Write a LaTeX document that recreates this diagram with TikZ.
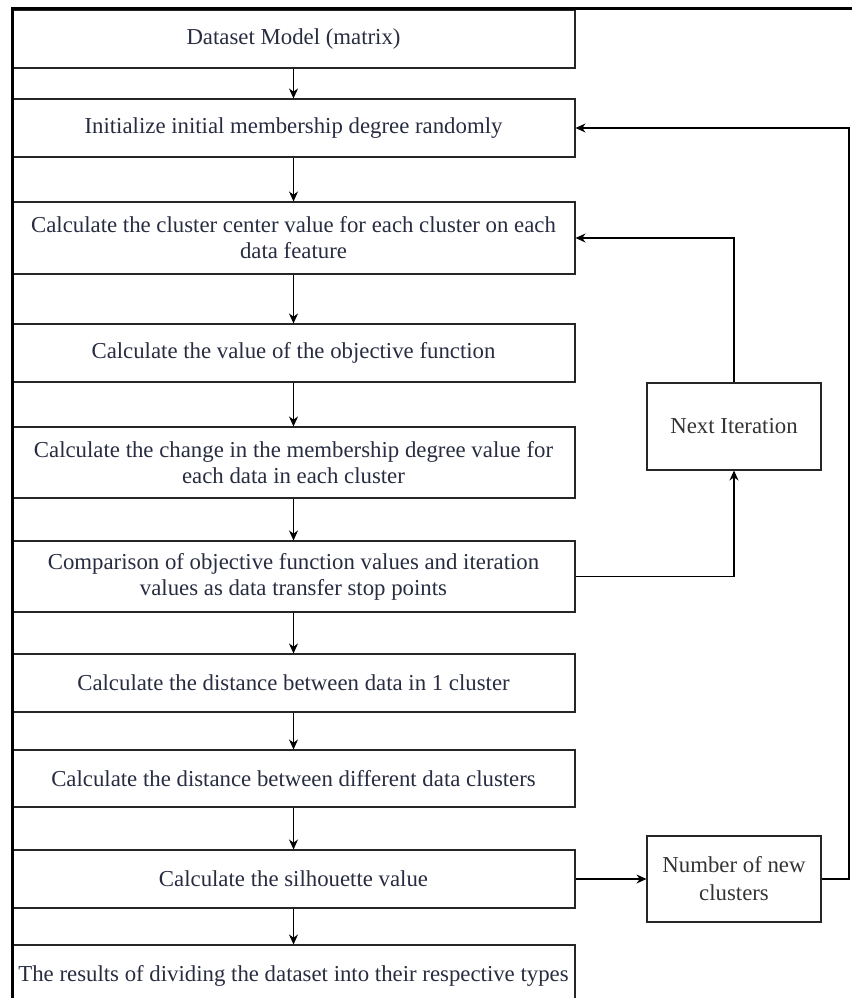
\documentclass[tikz,border=0pt]{standalone}
\usepackage{fontspec}
\setmainfont{Liberation Serif}
\usepackage{tikz}
\usetikzlibrary{positioning, arrows.meta}

\definecolor{inkline}{RGB}{38,38,38}
\definecolor{inktext}{RGB}{40,44,64}

\tikzset{
  stepbox/.style={draw=inkline, line width=1.1pt, minimum width=563pt, align=center,
    inner sep=0pt, text=inktext, font=\fontsize{22.8}{26}\selectfont},
  sidebox/.style={draw=inkline, line width=1.1pt, minimum width=174pt, align=center,
    inner sep=0pt, text=black!80, font=\fontsize{22.8}{28}\selectfont},
  arr/.style={draw=black, line width=1.1pt, -{Stealth[length=10pt,width=9pt]}},
}

\begin{document}
\begin{tikzpicture}[x=1pt, y=-1pt]
    \useasboundingbox (0,0) rectangle (852,998);

    % Main column of steps
    \foreach \n/\y/\h/\t in {
      b1/39/58/{Dataset Model (matrix)},
      b2/128/58/{Initialize initial membership degree randomly},
      b3/238/72/{Calculate the cluster center value for each cluster on each\\data feature},
      b4/353/58/{Calculate the value of the objective function},
      b5/462.5/71/{Calculate the change in the membership degree value for\\each data in each cluster},
      b6/576.5/71/{Comparison of objective function values and iteration\\values as data transfer stop points},
      b7/683/58/{Calculate the distance between data in 1 cluster},
      b8/778.5/57/{Calculate the distance between different data clusters},
      b9/879/58/{Calculate the silhouette value},
      b10/976/62/{The results of dividing the dataset into their respective types}} {
      \node[stepbox, minimum height=\h pt] (\n) at (293.5,\y) {\t};
    }

    % Side boxes
    \node[sidebox, minimum height=87pt] (next) at (734,426.5) {Next Iteration};
    \node[sidebox, minimum height=86pt] (newk) at (734,879) {Number of new\\clusters};

    % Page borders
    \draw[line width=3pt] (852,9) -- (12,9) -- (12,998);

    % Downward arrows
    \foreach \a/\b in {b1/b2, b2/b3, b3/b4, b4/b5, b5/b6, b6/b7, b7/b8, b8/b9, b9/b10} {
      \draw[arr] (\a.south) -- (\b.north);
    }

    % Iteration loop
    \draw[arr] (b6.east) -| (next.south);
    \draw[arr] (next.north) |- (b3.east);

    % Cluster loop
    \draw[arr] (b9.east) -- (newk.west);
    \coordinate (turn) at (849,879);
    \draw[arr] (newk.east) -- (turn) |- (b2.east);
\end{tikzpicture}
\end{document}
